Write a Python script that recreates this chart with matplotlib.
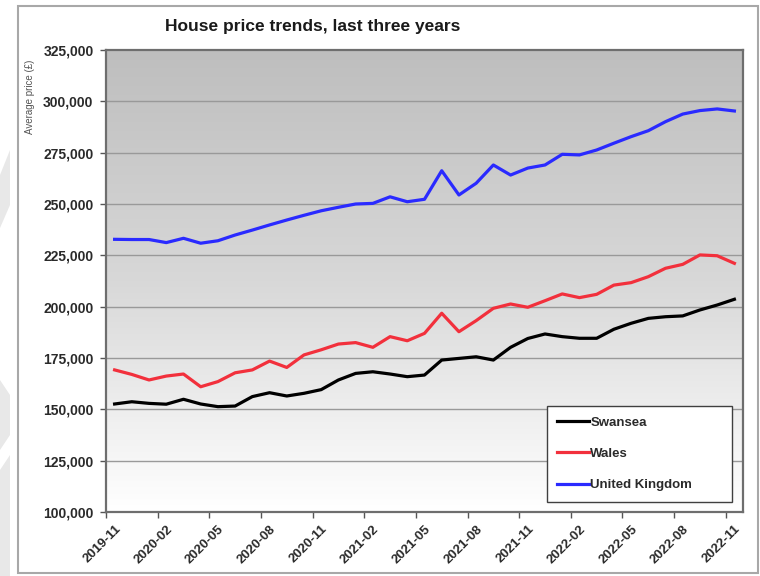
import numpy as np
import matplotlib
matplotlib.use("Agg")
import matplotlib.pyplot as plt
from matplotlib.colors import LinearSegmentedColormap
from matplotlib.patches import Rectangle, Polygon

# --- data (monthly average price, £) ---
months = ["2019-11", "2019-12", "2020-01", "2020-02", "2020-03", "2020-04",
          "2020-05", "2020-06", "2020-07", "2020-08", "2020-09", "2020-10",
          "2020-11", "2020-12", "2021-01", "2021-02", "2021-03", "2021-04",
          "2021-05", "2021-06", "2021-07", "2021-08", "2021-09", "2021-10",
          "2021-11", "2021-12", "2022-01", "2022-02", "2022-03", "2022-04",
          "2022-05", "2022-06", "2022-07", "2022-08", "2022-09", "2022-10",
          "2022-11"]

swansea = [152600, 153700, 152900, 152500, 154900, 152600, 151300, 151600,
           156200, 158100, 156500, 157800, 159600, 164300, 167500, 168300,
           167200, 165900, 166700, 174000, 174800, 175600, 174000, 180200,
           184500, 186700, 185400, 184600, 184600, 189000, 191900, 194300,
           195100, 195500, 198400, 200800, 203600]

wales = [169200, 167000, 164300, 166200, 167200, 161000, 163500, 167800,
         169200, 173500, 170400, 176500, 179000, 181800, 182500, 180200,
         185400, 183400, 187000, 196800, 187800, 193200, 199200, 201300,
         199700, 202900, 206200, 204400, 206000, 210500, 211700, 214600,
         218700, 220600, 225200, 224800, 221100]

uk = [232800, 232700, 232700, 231200, 233300, 230900, 232100, 234900,
      237300, 239800, 242200, 244500, 246700, 248400, 250000, 250300,
      253500, 251100, 252300, 266200, 254400, 260100, 269000, 264100,
      267500, 269000, 274200, 273900, 276300, 279600, 282800, 285700,
      290100, 293800, 295500, 296300, 295300]

series = [("Swansea", swansea, "#000000"),
          ("Wales", wales, "#f2303c"),
          ("United Kingdom", uk, "#2a2aff")]

y_ticks = [100000, 125000, 150000, 175000, 200000, 225000,
           250000, 275000, 300000, 325000]

plt.rcParams["font.family"] = ["Liberation Sans", "DejaVu Sans"]

W, H = 760, 576
fig = plt.figure(figsize=(W / 100, H / 100), dpi=100)
fig.patch.set_facecolor("white")

# outer chart border + faint left decoration
fig.patches.append(Rectangle((18 / W, 1 - 573 / H), (758 - 18) / W, (573 - 6) / H,
                             transform=fig.transFigure, fill=False,
                             edgecolor="#a8a8a8", linewidth=1.5))
for pts in ([(0, 175), (10, 150), (10, 205), (0, 228)],
            [(0, 380), (10, 395), (10, 435), (0, 450)],
            [(0, 470), (10, 455), (10, 576), (0, 576)]):
    fig.patches.append(Polygon([(x / W, 1 - y / H) for x, y in pts],
                               closed=True, transform=fig.transFigure,
                               facecolor="#e8e8e8", edgecolor="none"))

ax = fig.add_axes([106 / W, 1 - 512 / H, (743 - 106) / W, (512 - 50) / H])

x = np.arange(len(months))
x0, x1 = -0.5, len(months) - 0.5
y0, y1 = y_ticks[0], y_ticks[-1]

# gradient background of plot area
cmap = LinearSegmentedColormap.from_list("bg", ["#bebebe", "#d8d8d8", "#ffffff"])
grad = np.linspace(0, 1, 256).reshape(-1, 1)
ax.imshow(grad, extent=(x0, x1, y0, y1), aspect="auto", cmap=cmap,
          origin="upper", zorder=0)

for yt in y_ticks[1:-1]:
    ax.axhline(yt, color="#999999", linewidth=1.0, zorder=1)

for name, vals, col in series:
    ax.plot(x, vals, color=col, linewidth=2.3, label=name, zorder=3,
            solid_joinstyle="round")

ax.set_xlim(x0, x1)
ax.set_ylim(y0, y1)

ax.set_yticks(y_ticks)
ax.set_yticklabels([f"{v:,}" for v in y_ticks])
ax.tick_params(axis="y", direction="out", length=4, width=1, color="#555555",
               pad=5, labelsize=10, labelcolor="#2a2a2a")

# labels every 3 months at category centres, tick marks between categories
ax.set_xticks(x[::3])
ax.set_xticklabels(months[::3], rotation=45, ha="right", rotation_mode="anchor")
ax.tick_params(axis="x", which="major", length=0, pad=8, labelsize=9.5,
               labelcolor="#2a2a2a")
ax.set_xticks(x[::3] - 0.5, minor=True)
ax.tick_params(axis="x", which="minor", direction="out", length=4, width=1,
               color="#555555")
for lab in ax.get_xticklabels() + ax.get_yticklabels():
    lab.set_fontweight("bold")

for sp in ax.spines.values():
    sp.set_color("#6e6e6e")
    sp.set_linewidth(1.6)
    sp.set_zorder(4)

fig.text(165 / W, 1 - 27 / H, "House price trends, last three years",
         ha="left", va="center", fontsize=12.5, fontweight="bold", color="#1a1a1a")
fig.text(30 / W, 1 - 60 / H, "Average price (£)", rotation=90, ha="center",
         va="top", fontsize=7, color="#555555")

leg = ax.legend(loc="lower left", bbox_to_anchor=(0.692, 0.022, 0.29, 0.21),
                mode="expand", borderaxespad=0, frameon=True, fancybox=False,
                fontsize=9.5, handlelength=2.4, handletextpad=0.1,
                labelspacing=1.45, borderpad=0.8)
leg.get_frame().set_edgecolor("#404040")
leg.get_frame().set_linewidth(1.0)
leg.get_frame().set_facecolor("white")
leg.get_frame().set_alpha(1)
leg.set_zorder(5)
for t in leg.get_texts():
    t.set_fontweight("bold")
    t.set_color("#2a2a2a")

fig.savefig("out.png", dpi=100)
